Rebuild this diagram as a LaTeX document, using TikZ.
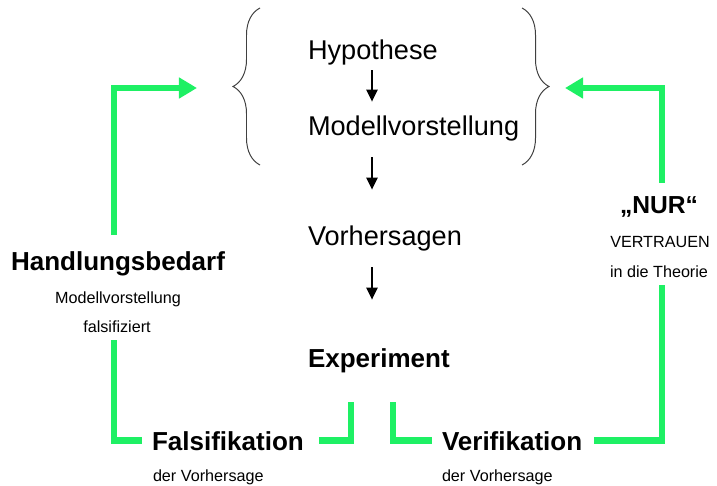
\documentclass[tikz,border=0pt]{standalone}
\usepackage{fontspec}
\setmainfont{Liberation Sans}
\usepackage{xcolor}
\usepackage{tikz}
\usetikzlibrary{arrows.meta,positioning,calc,
decorations.pathreplacing}
\definecolor{signalgreen}{RGB}{30,240,100}

\begin{document}
\begin{tikzpicture}[x=0.025cm,y=-0.025cm,every node/.style={inner sep=0pt,outer sep=0pt}]
\tikzstyle{big}=[font=\fontsize{19.3}{23}\selectfont,anchor=base west]
\tikzstyle{bigb}=[font=\fontsize{18.5}{22}\selectfont\bfseries]
\tikzstyle{small}=[font=\fontsize{11.5}{14}\selectfont,anchor=base]
\tikzstyle{gline}=[line width=0.17cm,draw=signalgreen]
\tikzstyle{garrow}=[gline,-{Triangle[length=0.45cm,width=0.5cm]}]
\tikzstyle{darrow}=[line width=1.8pt,-{Triangle[length=0.3cm,width=0.27cm]}]
\tikzstyle{brace}=[decorate,decoration={brace,amplitude=0.675cm},draw=black!75,line width=0.7pt]
\useasboundingbox (0,0) rectangle (717,486);

% middle column
\node (H) [big] at (308,60) {Hypothese};
\node (MV) [big] at (308,135) {Modellvorstellung};
\node (V) [big] at (308,245) {Vorhersagen};
\node (E) [big,bigb] at (308,367) {Experiment};
\coordinate (ax) at (372,0);
\draw [darrow,shorten <=0.11cm,shorten >=0.34cm] (H.south -| ax) -- (MV.north -| ax);
\draw [darrow,shorten <=0.41cm,shorten >=0.89cm] (MV.south -| ax) -- (V.north -| ax);
\draw [darrow,shorten <=0.41cm,shorten >=1.21cm] (V.south -| ax) -- (E.north -| ax);

% braces
\coordinate (BLt) at (260,8);
\coordinate (BLb) at (260,165);
\coordinate (BRt) at (522,8);
\coordinate (BRb) at (522,165);
\draw [brace] (BLb) -- (BLt);
\draw [brace] (BRt) -- (BRb);

% left side
\node (HB) [bigb,anchor=base] at (118,270) {Handlungsbedarf};
\node (HB1) [small] at (118,303) {Modellvorstellung};
\node (HB2) [small] at (117,332) {falsifiziert};
\node (F) [bigb,anchor=base west] at (152,450) {Falsifikation};
\node (F1) [small,anchor=base west] at (153,481) {der Vorhersage};

% right side
\node (VE) [bigb,anchor=base west] at (442,450) {Verifikation};
\node (VE1) [small,anchor=base west] at (442,481) {der Vorhersage};
\node (N) [font=\fontsize{17.5}{21}\selectfont\bfseries,anchor=base] at (659,213) {„NUR“};
\node (N1) [small] at (660,247) {VERTRAUEN};
\node (N2) [small] at (659,277) {in die Theorie};

% green loops
\coordinate (lBend) at (114,88);
\coordinate (lTip) at (197,88);
\coordinate (rBend) at (662,88);
\coordinate (rTip) at (565,88);
\coordinate (eL) at (351,402);
\coordinate (eR) at (393,402);
\draw [garrow,shorten <=0.4cm] (HB.north -| lBend) -- (lBend) -- (lTip);
\draw [gline,shorten <=0.2cm,shorten >=0.25cm] (HB2.south -| lBend) |- (F.west);
\draw [gline,shorten <=0.375cm] (F.east) -| (eL);
\draw [gline,shorten >=0.25cm] (eR) |- (VE.west);
\draw [gline,shorten <=0.3cm,shorten >=0.2cm] (VE.east) -| (N2.south -| rBend);
\draw [garrow,shorten <=0.33cm] (N.north -| rBend) -- (rBend) -- (rTip);
\end{tikzpicture}
\end{document}
